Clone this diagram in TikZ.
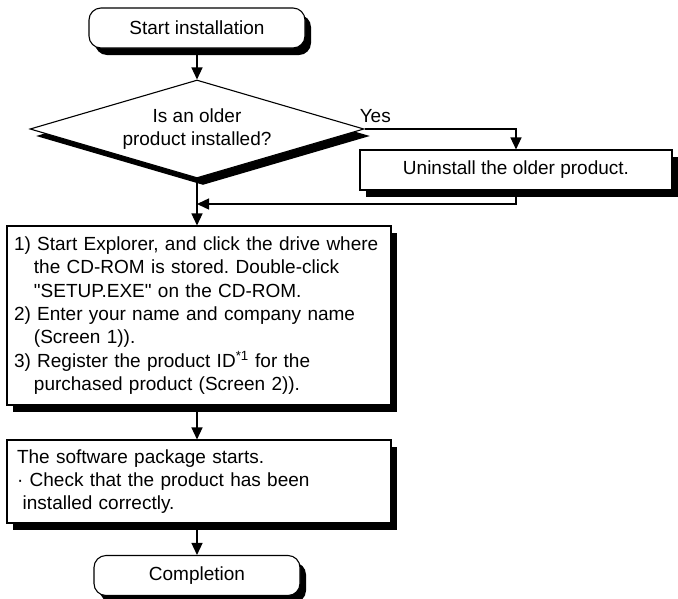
\documentclass[tikz,border=0pt]{standalone}
\usepackage{fontspec}
\setmainfont{Liberation Sans}
\usetikzlibrary{shapes.geometric,shadows,arrows.meta}
\frenchspacing

\tikzset{
  txt/.style={font=\fontsize{19pt}{23.4pt}\selectfont},
  base/.style={txt, draw, line width=1.1pt, fill=white, inner sep=0pt,
    general shadow={fill=black, shadow xshift=6pt, shadow yshift=-7pt}},
  term/.style={base, rounded corners=12pt, minimum height=40pt},
  proc/.style={base, minimum width=384pt, text width=370pt, align=left, inner xsep=7pt},
  decide/.style={base, diamond, aspect=3.4, minimum width=334pt, minimum height=98pt, align=center},
  flow/.style={->, line width=1.4pt}
}

\begin{document}
\begin{tikzpicture}[x=1pt, y=-1pt, >={Triangle[length=12pt, width=11pt]}]
        \useasboundingbox (0,0) rectangle (678,598);

        % inicio e pergunta
        \node[term, minimum width=216pt] (S) at (197,28) {Start installation};
        \node[decide] (Q) at (197,129) {Is an older\\product installed?};
        \node[txt, anchor=south west, inner sep=2pt] (Y) at ([shift={(-7,-4)}]Q.east) {Yes};
        \node[base, minimum width=312pt, minimum height=40pt] (U) at (516,170) {Uninstall the older product.};

        % passos
        \node[proc, minimum height=179pt] (P1) at (199,315.5) {\mbox{1) Start Explorer, and click the drive where}\\
          \hspace*{1.05em}the CD-ROM is stored. Double-click\\
          \hspace*{1.05em}\textquotedbl SETUP.EXE\textquotedbl{} on the CD-ROM.\\
          2) Enter your name and company name\\
          \hspace*{1.05em}(Screen 1)).\\
          3) Register the product ID\textsuperscript{*1} for the\\
          \hspace*{1.05em}purchased product (Screen 2)).};
        \node[proc, minimum height=83pt, inner xsep=10pt, text width=364pt] (P2) at (199,481.5) {The software package starts.\\
          · Check that the product has been\\
          \hspace*{0.3em}installed correctly.};
        \node[term, minimum width=206pt] (F) at (197,575.5) {Completion};

        % ponto de juncao
        \coordinate (J) at (Q.south |- 0,204);

        % ligacoes
        \draw[flow] (S) -- (Q);
        \draw[flow] (Q.east) -| (U.north);
        \draw[flow] (U.south) |- (J);
        \draw[flow] (Q.south) -- (P1.north -| S);
        \draw[flow] (P1.south -| S) -- (P2.north -| S);
        \draw[flow] (P2.south -| S) -- (F);
    \end{tikzpicture}
\end{document}
